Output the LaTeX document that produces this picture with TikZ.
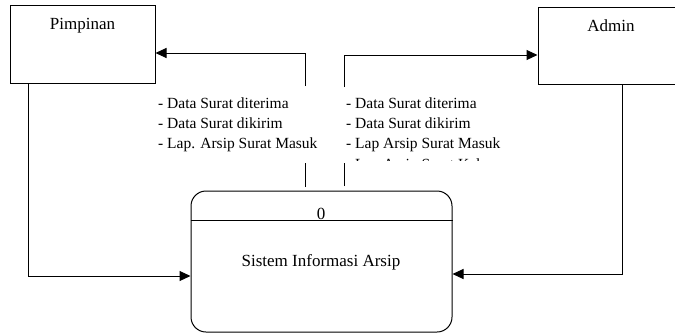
\documentclass[tikz,border=0pt]{standalone}
\usepackage{fontspec}
\setmainfont{Liberation Serif}
\usetikzlibrary{arrows.meta}
\tikzset{
  entity/.style={draw, line width=1pt, minimum width=145pt, minimum height=78pt},
  proses/.style={draw, line width=1pt, rounded corners=15pt, minimum width=261pt, minimum height=141pt},
  conn/.style={line width=1pt},
  flow/.style={line width=1pt, -{Triangle[length=11pt,width=10pt]}},
  datalist/.style={align=left, anchor=base west, inner sep=0pt, font=\fontsize{15.5}{20}\selectfont}
}
\begin{document}
\begin{tikzpicture}[x=1pt, y=-1pt, font=\fontsize{17}{20}\selectfont]
  \clip (0,0) rectangle (675,333);
  % external entities
  \node [entity] (pimpinan) at (82.5,44) {};
  \node [anchor=base, inner sep=0pt] (tpim) at (82.5,29) {Pimpinan};
  \node [entity, minimum width=146pt, minimum height=77pt] (admin) at (611,45.5) {};
  \node [anchor=base, inner sep=0pt] (tadm) at (611,31) {Admin};
  % process
  \node [proses] (sistem) at (321.5,261.5) {};
  \draw [conn] (sistem.west |- 0,220) -- (sistem.east |- 0,220);
  \node [anchor=base, inner sep=0pt] (nomor) at (321,219) {0};
  \node [anchor=base, inner sep=0pt] (nama) at (321,266) {Sistem Informasi Arsip};
  % data flow labels (base = last line)
  \node [datalist] (lblpim) at (158,148) {- Data Surat diterima\\- Data Surat dikirim\\- Lap. Arsip Surat Masuk};
  \node [datalist] (lbladm) at (346,148) {- Data Surat diterima\\- Data Surat dikirim\\- Lap Arsip Surat Masuk};
  \begin{scope}
    \clip (340,150) rectangle (520,160.5);
    \node [datalist] (lbladm4) at (346,169) {- Lap Arsip Surat Keluar};
  \end{scope}
  % flows to the entities
  \coordinate (pimlow) at (305,187);
  \coordinate (pimgap) at (305,163);
  \coordinate (pimup) at (305,86);
  \draw [conn] (pimlow) -- (pimgap);
  \draw [flow] (pimup) |- ([yshift=-9pt]pimpinan.east);
  \coordinate (admlow) at (344,186);
  \coordinate (admgap) at (344,163);
  \coordinate (admup) at (344,87);
  \draw [conn] (admlow) -- (admgap);
  \draw [flow] (admup) |- ([yshift=-9.5pt]admin.west);
  % flows to the process
  \draw [flow] ([xshift=19pt]pimpinan.south west) |- ([yshift=-14.5pt]sistem.west);
  \draw [flow] ([xshift=85pt]admin.south west) |- ([yshift=-12.5pt]sistem.east);
\end{tikzpicture}
\end{document}
